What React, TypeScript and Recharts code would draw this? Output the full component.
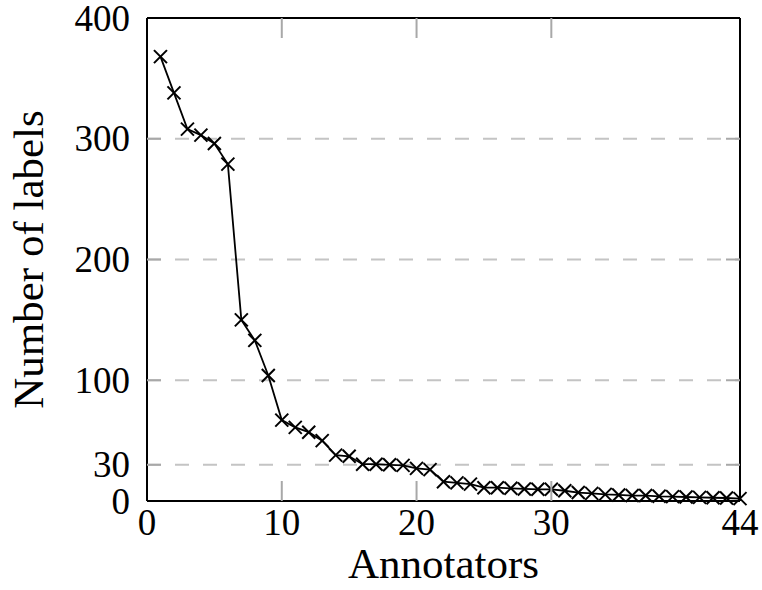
import React from "react";
import {
  LineChart,
  Line,
  XAxis,
  YAxis,
  CartesianGrid,
  ReferenceLine,
  Label,
} from "recharts";

// number of labels per annotator, sorted descending
const annotators = [
  1, 2, 3, 4, 5, 6, 7, 8, 9, 10, 11, 12, 13, 14, 15, 16, 17, 18, 19, 20, 21,
  22, 23, 24, 25, 26, 27, 28, 29, 30, 31, 32, 33, 34, 35, 36, 37, 38, 39, 40,
  41, 42, 43, 44,
];
const labelCounts = [
  368, 338, 308, 303, 296, 279, 150, 133, 104, 67, 61, 57, 50, 38, 37, 30.5,
  30.5, 30, 29.5, 27, 26, 16, 15, 14, 11, 11, 10.5, 10, 9.7, 9.7, 8.5, 7, 6.3,
  5.5, 5, 4.5, 4.5, 3.9, 3.6, 3.3, 3, 2.7, 2.5, 2,
];
const xTicks = [0, 10, 20, 30, 44];
const yTicks = [0, 30, 100, 200, 300, 400];
const gridValues = [30, 100, 200, 300];

const data = annotators.map((a, i) => ({ x: a, y: labelCounts[i] }));

// plot box in svg coords
const W = 762;
const H = 590;
const LEFT = 147;
const RIGHT = 740;
const TOP = 18;
const BOTTOM = 501;
const FONT = "'Liberation Serif', 'Times New Roman', serif";
const TICK_COLOR = "#a8a8a8";

const XTick = (props: any) => {
  const { x, payload } = props;
  const v = payload.value;
  const inner = v !== 0 && v !== 44;
  return (
    <g>
      {inner && (
        <>
          <line x1={x} y1={BOTTOM} x2={x} y2={BOTTOM - 20} stroke={TICK_COLOR} strokeWidth={2} />
          <line x1={x} y1={TOP} x2={x} y2={TOP + 20} stroke={TICK_COLOR} strokeWidth={2} />
        </>
      )}
      <text x={x} y={522} textAnchor="middle" dominantBaseline="central" fontFamily={FONT} fontSize={37} fill="#000">
        {v}
      </text>
    </g>
  );
};

const YTick = (props: any) => {
  const { y, payload } = props;
  const v = payload.value;
  const inner = v !== 0 && v !== 400;
  return (
    <g>
      {inner && (
        <>
          <line x1={LEFT} y1={y} x2={LEFT + 14} y2={y} stroke={TICK_COLOR} strokeWidth={2} />
          <line x1={RIGHT - 14} y1={y} x2={RIGHT} y2={y} stroke={TICK_COLOR} strokeWidth={2} />
        </>
      )}
      <text x={130} y={y} textAnchor="end" dominantBaseline="central" fontFamily={FONT} fontSize={37} fill="#000">
        {v}
      </text>
    </g>
  );
};

const CrossDot = (props: any) => {
  const { cx, cy, index } = props;
  if (cx == null || cy == null) return null;
  const s = 6.5;
  return (
    <g key={`dot-${index}`}>
      <line x1={cx - s} y1={cy - s} x2={cx + s} y2={cy + s} stroke="#000" strokeWidth={2} />
      <line x1={cx - s} y1={cy + s} x2={cx + s} y2={cy - s} stroke="#000" strokeWidth={2} />
    </g>
  );
};

const YLabel = () => (
  <text
    x={28}
    y={(TOP + BOTTOM) / 2}
    transform={`rotate(-90, 28, ${(TOP + BOTTOM) / 2})`}
    textAnchor="middle"
    dominantBaseline="central"
    fontFamily={FONT}
    fontSize={43}
    fill="#000"
  >
    Number of labels
  </text>
);

const XLabel = () => (
  <text
    x={(LEFT + RIGHT) / 2}
    y={563}
    textAnchor="middle"
    dominantBaseline="central"
    fontFamily={FONT}
    fontSize={43}
    fill="#000"
  >
    Annotators
  </text>
);

export default function App() {
  return (
    <div style={{ position: "absolute", left: 0, top: 0, background: "#fff" }}>
      <LineChart
        width={W}
        height={H}
        data={data}
        margin={{ top: TOP, right: W - RIGHT, left: 0, bottom: 0 }}
      >
        <CartesianGrid
          vertical={false}
          horizontalValues={gridValues}
          stroke="#c4c4c4"
          strokeWidth={2}
          strokeDasharray="14 14"
        />
        <XAxis
          dataKey="x"
          type="number"
          domain={[0, 44]}
          ticks={xTicks}
          interval={0}
          height={H - BOTTOM}
          axisLine={{ stroke: "#000", strokeWidth: 2 }}
          tickLine={false}
          tick={<XTick />}
        >
          <Label content={<XLabel />} />
        </XAxis>
        <YAxis
          type="number"
          domain={[0, 400]}
          ticks={yTicks}
          interval={0}
          width={LEFT}
          axisLine={{ stroke: "#000", strokeWidth: 2 }}
          tickLine={false}
          tick={<YTick />}
        >
          <Label content={<YLabel />} />
        </YAxis>
        <ReferenceLine y={400} stroke="#000" strokeWidth={2} />
        <ReferenceLine x={44} stroke="#000" strokeWidth={2} />
        <Line
          type="linear"
          dataKey="y"
          stroke="#000"
          strokeWidth={1.8}
          dot={<CrossDot />}
          activeDot={false}
          isAnimationActive={false}
        />
      </LineChart>
    </div>
  );
}
